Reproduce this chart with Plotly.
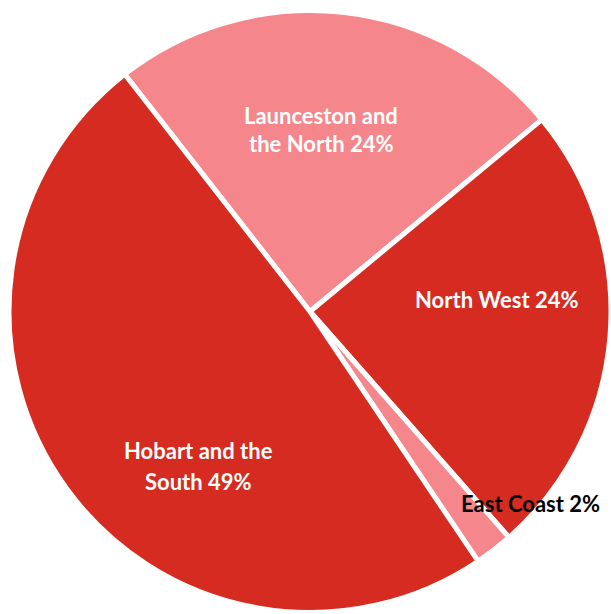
import plotly.graph_objects as go

# ---- data ----
regions = ["Launceston and the North", "North West", "East Coast", "Hobart and the South"]
shares = [24.49, 24.45, 2.06, 48.75]
pct_labels = ["24%", "24%", "2%", "49%"]
label_lines = [["Launceston and", "the North 24%"],
               ["North West 24%"],
               ["East Coast 2%"],
               ["Hobart and the", "South 49%"]]

# ---- styling ----
colors = ["#F5868B", "#D52B20", "#F5868B", "#D52B20"]
text_colors = ["white", "white", "black", "white"]
# label line centre positions in page pixels (x, y from top)
label_pos = [[(321, 115.5), (321.5, 143)],
             [(497, 299)],
             [(530.5, 503)],
             [(198.5, 450.5), (198.5, 481)]]

W, H = 611, 614
cx, cy, r = 310, 311.5, 301

fig = go.Figure(go.Pie(
    labels=regions,
    values=shares,
    sort=False,
    direction="clockwise",
    rotation=322,
    marker=dict(colors=colors, line=dict(color="white", width=5)),
    textinfo="none",
    hovertemplate="%{label}: %{percent}<extra></extra>",
    showlegend=False,
    domain=dict(x=[(cx - r) / W, min(1.0, (cx + r) / W)],
                y=[1 - (cy + r) / H, 1 - (cy - r) / H]),
))

annotations = []
for lines, poss, tc in zip(label_lines, label_pos, text_colors):
    for line, (px, py) in zip(lines, poss):
        annotations.append(dict(
            x=px / W, y=1 - py / H, xref="paper", yref="paper",
            text=line, showarrow=False, xanchor="center", yanchor="middle",
            font=dict(family="Lato", size=22, color=tc, weight="bold"),
        ))

fig.update_layout(
    width=W, height=H,
    margin=dict(l=0, r=0, t=0, b=0),
    paper_bgcolor="white", plot_bgcolor="white",
    annotations=annotations,
)

fig.write_html(
    "out.html",
    config={"displayModeBar": False},
    post_script="document.body.style.margin='0';document.body.style.overflow='hidden';",
)
